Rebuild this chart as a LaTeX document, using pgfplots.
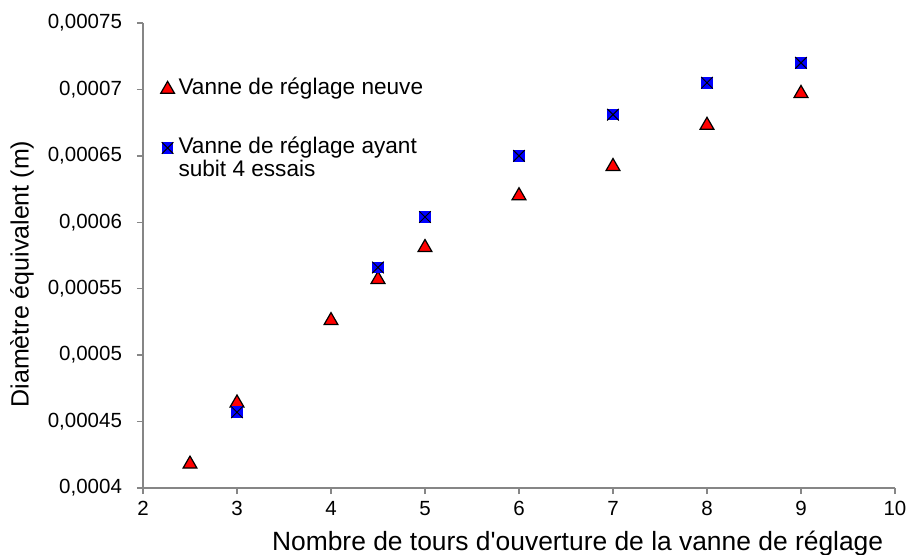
\documentclass[border=0pt]{standalone}
\usepackage{pgfplots}
\pgfplotsset{compat=1.18}
\usepackage{fontspec}
\setmainfont{Liberation Sans}

% carre bleu avec croix noire (marqueur Excel)
\pgfdeclareplotmark{sqx}{%
  \pgfpathrectangle{\pgfqpoint{-\pgfplotmarksize}{-\pgfplotmarksize}}{\pgfqpoint{2\pgfplotmarksize}{2\pgfplotmarksize}}%
  \pgfsetfillcolor{blue}\pgfusepathqfill
  \pgfpathmoveto{\pgfqpoint{-\pgfplotmarksize}{-\pgfplotmarksize}}%
  \pgfpathlineto{\pgfqpoint{\pgfplotmarksize}{\pgfplotmarksize}}%
  \pgfpathmoveto{\pgfqpoint{-\pgfplotmarksize}{\pgfplotmarksize}}%
  \pgfpathlineto{\pgfqpoint{\pgfplotmarksize}{-\pgfplotmarksize}}%
  \pgfsetstrokecolor{black}\pgfusepathqstroke
}

\definecolor{axisgray}{RGB}{134,134,134}

\begin{document}
\begin{tikzpicture}
\begin{axis}[
    scale only axis,
    width=376pt, height=232.5pt,
    xmin=2, xmax=10, ymin=0.0004, ymax=0.00075,
    axis x line=bottom, axis y line=left,
    axis line style={axisgray, line width=0.75pt, -},
    xtick={2,3,...,10},
    ytick={0.0004,0.00045,0.0005,0.00055,0.0006,0.00065,0.0007,0.00075},
    scaled y ticks=false,
    tick align=outside,
    major tick length=3pt,
    tick style={axisgray, line width=0.75pt},
    ticklabel style={font=\fontsize{10.25}{12}\selectfont},
    /pgf/number format/assume math mode=true,
    yticklabel style={xshift=-4pt, /pgf/number format/.cd, fixed, precision=5, use comma},
    xticklabel style={/pgf/number format/.cd, use comma},
    xlabel={Nombre de tours d\textquotesingle ouverture de la vanne de réglage},
    ylabel={Diamètre équivalent (m)},
    xlabel style={font=\fontsize{13.2}{14}\selectfont, at={(axis description cs:0.578,-0.12)}, anchor=center},
    ylabel style={font=\fontsize{12.5}{14}\selectfont, at={(axis description cs:-0.161,0.46)}, anchor=center},
    legend cell align=left,
    legend style={at={(axis description cs:0.015,0.9)}, anchor=north west, draw=none, fill=none,
        font=\fontsize{11.3}{11.5}\selectfont, cells={anchor=base west}, row sep=15.5pt},
    legend image code/.code={%
        \draw[mark repeat=2, mark phase=2, #1, yshift=2.6pt] plot coordinates {(0cm,0cm) (0.3cm,0cm) (0.6cm,0cm)};},
]
\addplot[only marks, mark=triangle*, mark size=4pt, mark options={fill=red, draw=black, line width=0.6pt}]
coordinates {(2.5,0.000418) (3,0.000464) (4,0.000526) (4.5,0.000557) (5,0.000581)
             (6,0.000620) (7,0.000642) (8,0.000673) (9,0.000697)};
\addlegendentry{Vanne de réglage neuve}
\addplot[only marks, mark=sqx, mark size=2.9pt, mark options={line width=0.5pt}]
coordinates {(3,0.000457) (4.5,0.000566) (5,0.000604) (6,0.000650)
             (7,0.000681) (8,0.000705) (9,0.000720)};
\addlegendentry{\begin{tabular}[t]{@{}l@{}}Vanne de réglage ayant\\subit 4 essais\end{tabular}}
\end{axis}
\pgfresetboundingbox
\path[use as bounding box] (-71.5pt,-33.5pt) rectangle (385pt,244pt);
\end{tikzpicture}
\end{document}
